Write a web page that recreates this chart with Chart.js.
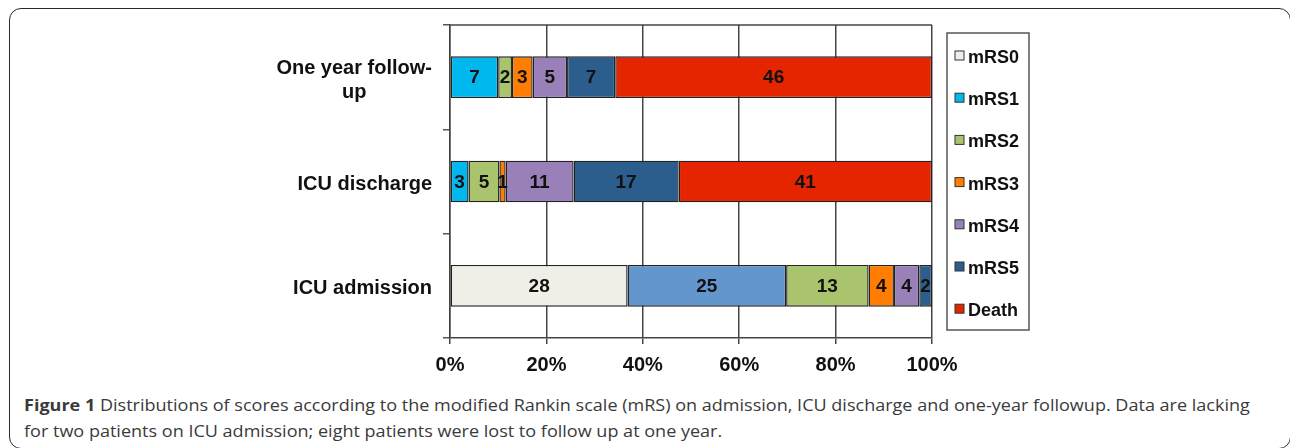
<!DOCTYPE html>
<html>
<head>
<meta charset="utf-8">
<script src="https://cdn.jsdelivr.net/npm/chart.js@4.4.1/dist/chart.umd.min.js"></script>
<style>
  html, body { margin: 0; padding: 0; background: #fff; width: 1290px; height: 448px; overflow: hidden; }
  #frame { position: absolute; left: 9px; top: 8px; width: 1282px; height: 441px; border: 1.5px solid #2a2a2a; border-radius: 12px; box-sizing: border-box; }
  #chart { position: absolute; left: 0; top: 0; }
  .cap { position: absolute; left: 24px; font-family: "Open Sans", sans-serif; font-size: 16.5px; line-height: 20px; color: #3a3a3a; white-space: nowrap; transform-origin: 0 0; }
  .cap b { font-weight: 700; }
</style>
</head>
<body>
<div id="frame"></div>
<canvas id="chart" width="1290" height="390"></canvas>
<div class="cap" id="cap1" style="top:395px"><b>Figure 1</b> Distributions of scores according to the modified Rankin scale (mRS) on admission, ICU discharge and one-year followup. Data are lacking</div>
<div class="cap" id="cap2" style="top:421px">for two patients on ICU admission; eight patients were lost to follow up at one year.</div>
<script>
// categories top to bottom
const categories = [['One year follow-', 'up'], 'ICU discharge', 'ICU admission'];
const seriesNames = ['mRS0', 'mRS1', 'mRS2', 'mRS3', 'mRS4', 'mRS5', 'Death'];

// patient counts per category
const mrs0 = [0, 0, 28];
const mrs1 = [7, 3, 25];
const mrs2 = [2, 5, 13];
const mrs3 = [3, 1, 4];
const mrs4 = [5, 11, 4];
const mrs5 = [7, 17, 2];
const death = [46, 41, 0];

const xTicks = [0, 20, 40, 60, 80, 100];

const counts = [mrs0, mrs1, mrs2, mrs3, mrs4, mrs5, death];
// mRS1 on admission was drawn in a different blue in the original
const colors = [
  '#EFEFE7',
  ['#00B8EE', '#00B8EE', '#6396CD'],
  '#AAC46E',
  '#FF7D00',
  '#9A80B8',
  '#2C5E8D',
  '#E42500',
];
const legendColors = ['#EFEFE7', '#00B8EE', '#AAC46E', '#FF7D00', '#9A80B8', '#2C5E8D', '#E42500'];

const totals = categories.map((_, i) => counts.reduce((s, arr) => s + arr[i], 0));

const FONT = '"Liberation Sans", Arial, sans-serif';
const LABEL_RIGHT = 432;

// category labels, right-aligned block with centred lines
const catLabels = {
  id: 'catLabels',
  afterDraw(chart) {
    const ctx = chart.ctx, y = chart.scales.y;
    ctx.save();
    ctx.font = 'bold 20px ' + FONT;
    ctx.fillStyle = '#111';
    ctx.textAlign = 'center';
    ctx.textBaseline = 'middle';
    categories.forEach((lab, i) => {
      const lines = Array.isArray(lab) ? lab : [lab];
      const w = Math.max(...lines.map(l => ctx.measureText(l).width));
      const cx = LABEL_RIGHT - w / 2;
      const cy = y.getPixelForValue(i) + 3;
      lines.forEach((l, k) => ctx.fillText(l, cx, cy + (k - (lines.length - 1) / 2) * 24));
    });
    ctx.restore();
  }
};

// counts written in the middle of each segment
const valueLabels = {
  id: 'valueLabels',
  afterDatasetsDraw(chart) {
    const ctx = chart.ctx;
    ctx.save();
    ctx.font = 'bold 19px ' + FONT;
    ctx.fillStyle = '#111';
    ctx.textAlign = 'center';
    ctx.textBaseline = 'middle';
    chart.data.datasets.forEach((ds, di) => {
      chart.getDatasetMeta(di).data.forEach((bar, i) => {
        const n = ds.counts[i];
        if (!n) return;
        const c = bar.getCenterPoint();
        ctx.fillText(String(n), c.x, c.y + 1);
      });
    });
    ctx.restore();
  }
};

// plot frame top edge + boxed legend on the right
const extras = {
  id: 'extras',
  afterDraw(chart) {
    const ctx = chart.ctx, a = chart.chartArea;
    ctx.save();
    ctx.strokeStyle = '#444';
    ctx.lineWidth = 1.5;
    ctx.beginPath();
    ctx.moveTo(a.left, a.top);
    ctx.lineTo(a.right, a.top);
    ctx.stroke();

    // legend
    ctx.strokeStyle = '#555';
    ctx.strokeRect(947, 33, 82, 297);
    ctx.font = 'bold 18px ' + FONT;
    ctx.textAlign = 'left';
    ctx.textBaseline = 'middle';
    seriesNames.forEach((name, i) => {
      const cy = 58 + i * 42.2;
      ctx.fillStyle = legendColors[i];
      ctx.fillRect(955, cy - 7, 9, 9);
      ctx.strokeStyle = '#333';
      ctx.lineWidth = 1;
      ctx.strokeRect(955, cy - 7, 9, 9);
      ctx.fillStyle = '#111';
      ctx.fillText(name, 968, cy);
    });
    ctx.restore();
  }
};

const datasets = seriesNames.map((name, i) => ({
  label: name,
  counts: counts[i],
  data: counts[i].map((v, k) => v / totals[k] * 100),
  backgroundColor: colors[i],
  borderColor: '#222',
  borderWidth: ctx => (ctx.raw ? 1.4 : 0),
  borderSkipped: false,
  barPercentage: 0.4,
  categoryPercentage: 1,
}));

new Chart(document.getElementById('chart'), {
  type: 'bar',
  data: { labels: categories, datasets },
  options: {
    indexAxis: 'y',
    responsive: false,
    animation: false,
    devicePixelRatio: 1,
    layout: { padding: { left: 0, top: 25, right: 358, bottom: 0 } },
    plugins: { legend: { display: false }, tooltip: { enabled: false } },
    scales: {
      x: {
        stacked: true,
        min: 0, max: 100,
        afterBuildTicks: s => { s.ticks = xTicks.map(v => ({ value: v })); },
        afterFit: s => { s.height = 52; },
        grid: { color: '#444', lineWidth: 1.5, tickLength: 6 },
        border: { display: true, color: '#444', width: 1.5 },
        ticks: {
          color: '#111',
          padding: 9,
          font: { family: FONT, size: 20, weight: 'bold' },
          callback: v => v + '%',
        },
      },
      y: {
        stacked: true,
        afterFit: s => { s.width = 450; },
        grid: { drawOnChartArea: false, color: '#555', lineWidth: 1.5, tickLength: 7 },
        border: { display: true, color: '#444', width: 1.5 },
        ticks: { display: false },
      },
    },
  },
  plugins: [valueLabels, catLabels, extras],
});

// squeeze the caption to the width of the original first line
const c1 = document.getElementById('cap1');
const c2 = document.getElementById('cap2');
const k = 1226 / c1.scrollWidth;
c1.style.transform = 'scaleX(' + k + ')';
c2.style.transform = 'scaleX(' + k + ')';
</script>
</body>
</html>
